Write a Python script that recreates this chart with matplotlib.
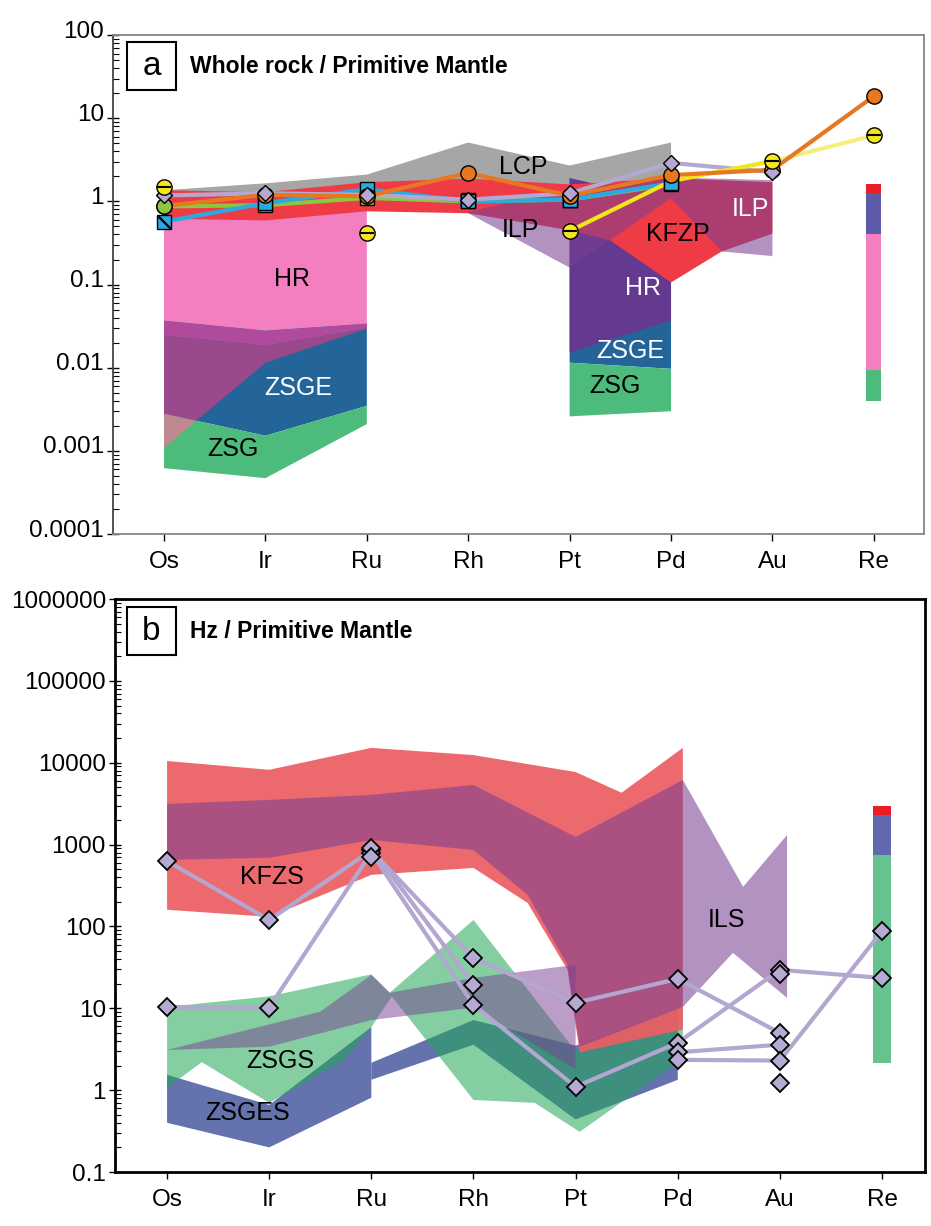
import numpy as np
import matplotlib
matplotlib.use("Agg")
import matplotlib.pyplot as plt
import matplotlib.transforms as mtrans
from matplotlib.patches import Rectangle
from matplotlib.ticker import LogLocator, NullFormatter, FixedLocator, FixedFormatter

plt.rcParams['font.family'] = ['Liberation Sans', 'DejaVu Sans']

nan = np.nan
elements = ['Os', 'Ir', 'Ru', 'Rh', 'Pt', 'Pd', 'Au', 'Re']
xi = np.arange(len(elements))

# ---------------- panel a: fields (upper x, upper, lower x, lower) ----------------
lcp_ux = [0, 1, 2, 3, 4, 5]; lcp_u = [1.36, 1.65, 2.1, 5.1, 2.7, 5.1]
lcp_lx = [0, 1, 2, 3, 4, 5]; lcp_l = [0.9, 0.9, 0.95, 0.9, 0.45, 0.9]

hr_x = [0, 1, 2]
hr_u = [1.1, 1.0, 1.0]
hr_l = [0.0368, 0.0279, 0.0339]
hrband_l = [0.0243, 0.0184, 0.0295]
hrdiag = [0.00109, 0.0115, 0.0295]
zsge_l = [0.00279, 0.00152, 0.00348]
zsg_l = [0.00062, 0.00047, 0.0021]
tail_x = [0, 0, 0.318]; tail_y = [0.00279, 0.00109, 0.0023]

pt_x = [4, 5]
hr2_u = [1.9, 1.0]; hr2_l = [0.0152, 0.0368]
zsge2_l = [0.0115, 0.0097]
zsg2_l = [0.0026, 0.0030]

kfzp_ux = [0, 1, 2, 3, 4, 5, 6]; kfzp_u = [1.36, 1.29, 1.7, 1.88, 1.6, 1.9, 1.7]
kfzp_lx = [0, 1, 2, 3, 4, 4.4, 5, 5.5, 6]; kfzp_l = [0.62, 0.59, 0.76, 0.72, 0.45, 0.34, 0.106, 0.25, 0.41]

ilp_ux = [3, 4, 5, 6]; ilp_u = [0.75, 1.4, 1.94, 1.8]
ilp_lx = [3, 4, 5, 5.5, 6]; ilp_l = [0.72, 0.16, 1.09, 0.25, 0.22]

re_a_bottom = [0.004, 0.0095, 0.41, 1.25]
re_a_top = [0.0095, 0.41, 1.25, 1.6]

# ---------------- panel a: whole-rock samples ----------------
orange = [0.88, 1.2, 1.15, 2.2, 1.17, 2.07, 2.4, 18.4]
yellow_pts = [1.47, nan, 0.42, nan, 0.44, nan, 3.05, 6.2]
yellow_line = [nan, nan, nan, nan, 0.44, 1.75, 3.05, nan]
yellow_tail = [nan, nan, nan, nan, nan, nan, 3.05, 6.2]
blue = [0.57, 0.95, 1.4, 1.0, 1.05, 1.65, nan, nan]
green = [0.87, 0.9, 1.1, 1.0, 1.05, 1.6, nan, nan]
lav_a = [1.18, 1.25, 1.2, 1.05, 1.25, 2.9, 2.25, nan]
dark_sq = [nan, nan, nan, 1.05, 1.05, nan, nan, nan]

# ---------------- panel b: fields ----------------
kfzs_ux = [0, 1, 2, 3, 4, 4.45, 5.05]; kfzs_u = [10500, 8200, 15200, 12400, 7700, 4300, 15200]
kfzs_lx = [0, 1, 2, 3, 3.53, 3.92, 4.04, 5.05]; kfzs_l = [160, 131, 427, 519, 194, 29.6, 2.9, 5.5]

ils_ux = [0, 1, 2, 3, 4, 5.05, 5.64, 6.07]; ils_u = [3140, 3520, 4050, 5360, 1240, 6170, 305, 1310]
ils_lx = [0, 1, 2, 3, 3.53, 3.92, 4.04, 5.05, 5.54, 6.07]
ils_l = [650, 690, 1140, 860, 243, 34, 3.4, 10.4, 47.6, 13.4]

ils2_ux = [0, 1.5, 2, 2.18, 3, 4]; ils2_u = [3.1, 9.1, 25.6, 15.5, 23.6, 34]
ils2_lx = [0, 1, 2, 3, 4]; ils2_l = [3.1, 3.4, 7.2, 10.2, 1.8]

zsgs_ux = [0, 1, 2, 2.18, 3, 4, 5.05]; zsgs_u = [10.4, 14, 26, 15.5, 120, 3, 10.4]
zsgs_lx = [0, 0.34, 1, 1.73, 2, 2.2, 3, 3.6, 4.04, 4.9, 5.05]
zsgs_l = [1.07, 2.2, 0.70, 2.3, 5.9, 14, 0.76, 0.7, 0.31, 1.8, 2.2]

zsges_x = [0, 1, 2]; zsges_u = [1.54, 0.66, 5.9]; zsges_l = [0.40, 0.20, 0.81]
zsges2_x = [2, 3, 4, 5]; zsges2_u = [2.16, 7.2, 3.5, 10]; zsges2_l = [1.34, 3.6, 0.44, 1.34]

re_b_bottom = [2.16, 750, 2310]
re_b_top = [750, 2310, 2970]

# ---------------- panel b: Hz samples ----------------
hz_samples = [
    [630, 120, 850, 41, 11.7, 22.9, 5.0, nan],
    [10.4, 10.2, 800, 11, 1.1, 3.8, 29.5, 23.5],
    [nan, nan, 900, 19.4, nan, 2.9, 3.6, nan],
    [nan, nan, 700, nan, nan, 2.35, 2.3, 88],
    [nan, nan, nan, nan, nan, nan, 26.5, nan],
    [nan, nan, nan, nan, nan, nan, 1.24, nan],
]


def field(ax, ux, uy, lx, ly, color, alpha=1.0, z=1):
    xs = list(ux) + list(lx)[::-1]
    ys = list(uy) + list(ly)[::-1]
    ax.fill(xs, ys, color=color, alpha=alpha, lw=0, zorder=z)


def style_axes(ax, ylo, yhi, labels, xlim, spine_col, spine_lw):
    ax.set_yscale('log')
    ax.set_ylim(ylo, yhi)
    ax.set_xlim(*xlim)
    ax.set_xticks(xi)
    ax.set_xticklabels(elements, fontsize=17.5)
    ax.yaxis.set_major_locator(FixedLocator([float(s) for s in labels]))
    ax.yaxis.set_major_formatter(FixedFormatter(labels))
    ax.yaxis.set_minor_locator(LogLocator(base=10, subs=range(2, 10), numticks=20))
    ax.yaxis.set_minor_formatter(NullFormatter())
    ax.tick_params(axis='y', which='major', direction='inout', length=9, width=1, labelsize=17.5, pad=2)
    ax.tick_params(axis='y', which='minor', direction='in', length=4, width=0.8)
    ax.tick_params(axis='x', which='major', direction='out', length=5, width=1, pad=7)
    for s in ax.spines.values():
        s.set_color(spine_col)
        s.set_linewidth(spine_lw)


fig = plt.figure(figsize=(9.31, 12.26), dpi=100)

# ======================= panel a =======================
ax = fig.add_axes([0.1214, 0.5644, 0.8711, 0.4070])
style_axes(ax, 1e-4, 100, ['0.0001', '0.001', '0.01', '0.1', '1', '10', '100'],
           (-0.503, 7.495), '#858585', 1.3)
ax.spines['left'].set_color('#444444')
off = mtrans.ScaledTranslation(0, 6 / 100, fig.dpi_scale_trans)
for lab in ax.get_yticklabels():
    lab.set_transform(lab.get_transform() + off)

field(ax, lcp_ux, lcp_u, lcp_lx, lcp_l, '#a6a6a6', z=1)
field(ax, hr_x, hr_u, hr_x, hr_l, '#f47fc0', z=2)
field(ax, hr_x, hr_l, hr_x, zsge_l, '#236599', z=3)
field(ax, hr_x, hr_l, hr_x, hrband_l, '#b04a9c', z=4)
field(ax, hr_x, hrband_l, hr_x, hrdiag, '#9a4a8c', z=4)
field(ax, hr_x, zsge_l, hr_x, zsg_l, '#4dbb7b', z=5)
ax.fill(tail_x, tail_y, color='#c08890', lw=0, zorder=5.5)
field(ax, pt_x, hr2_u, pt_x, zsge2_l, '#236599', z=3)
field(ax, pt_x, hr2_u, pt_x, hr2_l, '#633a8f', z=4)
field(ax, pt_x, zsge2_l, pt_x, zsg2_l, '#4dbb7b', z=5)
field(ax, kfzp_ux, kfzp_u, kfzp_lx, kfzp_l, '#ee3b46', z=7)
field(ax, ilp_ux, ilp_u, ilp_lx, ilp_l, '#793f93', alpha=0.57, z=8)

for b0, b1, c in zip(re_a_bottom, re_a_top, ['#4dbb7b', '#f47fc0', '#5b5ba8', '#ee1c25']):
    ax.bar(7, b1 - b0, bottom=b0, width=0.15, color=c, lw=0, zorder=6)

lw = 3
ax.plot(xi, green, color='#8dc63f', lw=lw, zorder=9)
ax.plot(xi, blue, color='#29abe2', lw=lw, zorder=9)
ax.plot(xi, lav_a, color='#b4a8d0', lw=lw, zorder=9)
ax.plot(xi, orange, color='#e87722', lw=lw, zorder=9.5)
ax.plot(xi, yellow_line, color='#f2e51a', lw=lw, zorder=9.4)
ax.plot(xi, yellow_tail, color='#f6ef80', lw=lw, zorder=9.4)

mk = dict(mec='black', mew=1.0, ls='none')
ax.plot(xi, dark_sq, marker='s', ms=10, mfc='#1c2b33', zorder=10, **mk)
ax.plot(xi[1:], green[1:], marker='s', ms=10, mfc='#8dc63f', zorder=10, **mk)
ax.plot(xi, blue, marker='s', ms=10, mfc='#29abe2', zorder=10, **mk)
ax.plot(xi[:1], blue[:1], marker=(2, 2, 45), ms=12, mec='black', mew=1.5, ls='none', zorder=10.1)
ax.plot(xi, orange, marker='o', ms=11, mfc='#e87722', zorder=10.2, **mk)
ax.plot(xi[:1], green[:1], marker='o', ms=11, mfc='#8dc63f', zorder=10.3, **mk)
ax.plot(xi, lav_a, marker='D', ms=8.5, mfc='#b4a8d0', zorder=10.4, **mk)
ax.plot(xi, yellow_pts, marker='o', ms=11, mfc='#f5e61c', zorder=10.5, **mk)
ax.plot(xi, yellow_pts, marker='_', ms=10, mec='black', mew=1.5, ls='none', zorder=10.6)

fs = 18
ax.text(3.54, 2.6, 'LCP', fontsize=fs, ha='center', va='center', zorder=12)
ax.text(1.26, 0.118, 'HR', fontsize=fs, ha='center', va='center', zorder=12)
ax.text(1.32, 0.0057, 'ZSGE', fontsize=fs, ha='center', va='center', color='white', zorder=12)
ax.text(0.68, 0.00106, 'ZSG', fontsize=fs, ha='center', va='center', zorder=12)
ax.text(3.51, 0.45, 'ILP', fontsize=fs, ha='center', va='center', zorder=12)
ax.text(5.07, 0.41, 'KFZP', fontsize=fs, ha='center', va='center', zorder=12)
ax.text(5.78, 0.82, 'ILP', fontsize=fs, ha='center', va='center', color='white', zorder=12)
ax.text(4.72, 0.092, 'HR', fontsize=fs, ha='center', va='center', color='white', zorder=12)
ax.text(4.6, 0.016, 'ZSGE', fontsize=fs, ha='center', va='center', color='white', zorder=12)
ax.text(4.45, 0.0061, 'ZSG', fontsize=fs, ha='center', va='center', zorder=12)

ax.add_patch(Rectangle((0.0173, 0.8898), 0.0604, 0.0962, transform=ax.transAxes,
                       fill=False, ec='black', lw=1.5, zorder=13))
ax.text(0.0475, 0.938, 'a', transform=ax.transAxes, fontsize=24, ha='center', va='center', zorder=13)
ax.text(0.095, 0.938, 'Whole rock / Primitive Mantle', transform=ax.transAxes,
        fontsize=16.5, fontweight='bold', ha='left', va='center', zorder=13)

# ======================= panel b =======================
bx = fig.add_axes([0.1235, 0.0440, 0.8700, 0.4674])
style_axes(bx, 0.1, 1e6, ['0.1', '1', '10', '100', '1000', '10000', '100000', '1000000'],
           (-0.51, 7.42), 'black', 2.0)

field(bx, zsges_x, zsges_u, zsges_x, zsges_l, '#6472ae', z=1)
field(bx, zsges2_x, zsges2_u, zsges2_x, zsges2_l, '#6472ae', z=1)
field(bx, zsgs_ux, zsgs_u, zsgs_lx, zsgs_l, '#1fa755', alpha=0.55, z=2)
field(bx, kfzs_ux, kfzs_u, kfzs_lx, kfzs_l, '#eb5f63', alpha=0.93, z=3)
field(bx, ils_ux, ils_u, ils_lx, ils_l, '#793f93', alpha=0.57, z=4)
field(bx, ils2_ux, ils2_u, ils2_lx, ils2_l, '#793f93', alpha=0.5, z=4)

for b0, b1, c in zip(re_b_bottom, re_b_top, ['#66c28e', '#6168ad', '#ee1c25']):
    bx.bar(7, b1 - b0, bottom=b0, width=0.175, color=c, lw=0, zorder=5)

for s in hz_samples:
    bx.plot(xi, s, color='#b3a6d1', lw=3, zorder=8)
for s in hz_samples:
    bx.plot(xi, s, marker='D', ms=9.5, mfc='#b4aad2', mec='black', mew=1.3, ls='none', zorder=9)

bx.text(1.03, 404, 'KFZS', fontsize=fs, ha='center', va='center', zorder=12)
bx.text(1.11, 2.3, 'ZSGS', fontsize=fs, ha='center', va='center', zorder=12)
bx.text(0.79, 0.53, 'ZSGES', fontsize=fs, ha='center', va='center', zorder=12)
bx.text(5.48, 120, 'ILS', fontsize=fs, ha='center', va='center', zorder=12)

bx.add_patch(Rectangle((0.0148, 0.902), 0.0605, 0.084, transform=bx.transAxes,
                       fill=False, ec='black', lw=1.5, zorder=13))
bx.text(0.045, 0.944, 'b', transform=bx.transAxes, fontsize=24, ha='center', va='center', zorder=13)
bx.text(0.0926, 0.944, 'Hz / Primitive Mantle', transform=bx.transAxes,
        fontsize=16.5, fontweight='bold', ha='left', va='center', zorder=13)

fig.savefig('out.png', dpi=100)
